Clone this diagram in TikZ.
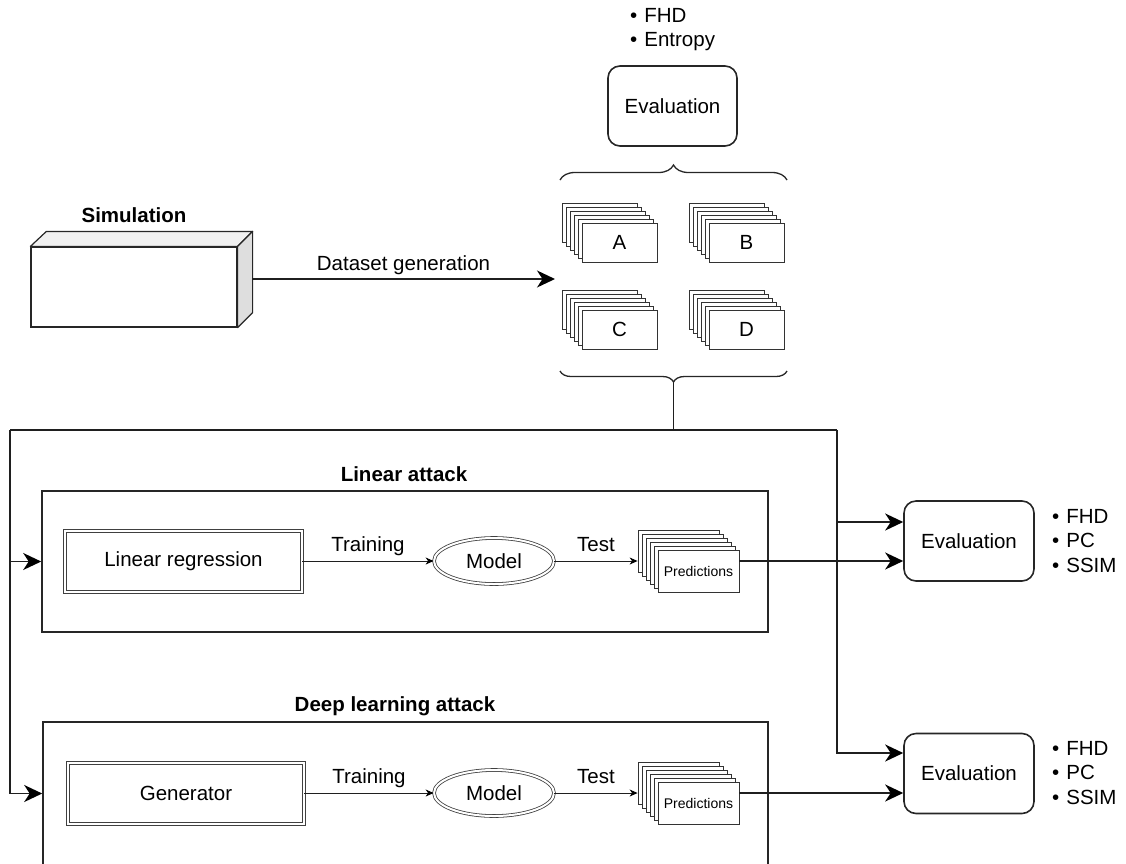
\documentclass[tikz,border=0pt]{standalone}
\usepackage{fontspec}
\setmainfont{Liberation Sans}
\usetikzlibrary{arrows.meta,shapes.geometric,decorations.pathreplacing,calc}
\newcommand\mystack[4]{%
  \foreach \i in {5,4,...,1} {
    \node[card, minimum width=#3, minimum height=#4] (#1-\i) at ($(#2)+(-4*\i,-4*\i)$) {};
  }%
}
\begin{document}
\begin{tikzpicture}[x=1pt,y=-1pt,
  every node/.style={font=\fontsize{20.5}{24}\selectfont, text=black},
  conn/.style={line width=1.7pt, draw=black!88},
  bigarrow/.style={conn, -{Stealth[length=18pt,width=17pt,inset=5.5pt,color=black]}},
  smallarrow/.style={line width=0.9pt, draw=black!88, -{Stealth[length=8pt,width=7pt,inset=2.5pt,color=black]}},
  evalbox/.style={draw=black!85, line width=1.6pt, rounded corners=12pt, minimum width=130, minimum height=80, inner sep=0},
  frame/.style={draw=black!85, line width=1.6pt, inner sep=0},
  dbl/.style={draw=black!75, double=white, double distance=2pt, line width=0.8pt, inner sep=0},
  card/.style={draw=black!80, fill=white, line width=0.8pt, inner sep=0},
  title/.style={font=\bfseries\fontsize{20.5}{24}\selectfont},
  lbl/.style={anchor=base, yshift=#1, inner sep=0},
  bullets/.style={align=left, font=\fontsize{20.5}{24.5}\selectfont, inner sep=0, anchor=west},
  bigbrace/.style={draw=black!85, line width=1.3pt, decorate, decoration={brace, amplitude=#1}}
]
\useasboundingbox (0,0) rectangle (1126,863);
\clip (0,0) rectangle (1126,863);

% top evaluation
\node[bullets] (topb) at (630,29.5) {\textbullet\hspace{7pt}FHD\\\textbullet\hspace{7pt}Entropy};
\node[evalbox, minimum width=129] (ev0) at (672.5,106) {Evaluation};

% braces
\draw[bigbrace=15pt] (560,180) -- (787,180);
\draw[bigbrace=11pt] (787,371) -- (560,371);
\coordinate (btip) at (673.5,383);

% dataset stacks
\mystack{A}{619.5,242.5}{75}{39}
\node[card, minimum width=75, minimum height=39] (A) at (619.5,242.5) {A};
\mystack{B}{746.5,242.5}{75}{39}
\node[card, minimum width=75, minimum height=39] (B) at (746.5,242.5) {B};
\mystack{C}{619.5,329.5}{75}{39}
\node[card, minimum width=75, minimum height=39] (C) at (619.5,329.5) {C};
\mystack{D}{746.5,329.5}{75}{39}
\node[card, minimum width=75, minimum height=39] (D) at (746.5,329.5) {D};

% simulation cube
\node[title] (simt) at (134,215) {Simulation};
\node[draw=black!85, line width=1.2pt, minimum width=206, minimum height=80, inner sep=0] (sim) at (134,287) {};
\filldraw[fill=black!6, draw=black!85, line width=1.2pt, line join=round] (sim.north west) -- ++(16,-15) -- ($(sim.north east)+(15,-15)$) -- (sim.north east) -- cycle;
\filldraw[fill=black!13, draw=black!85, line width=1.2pt, line join=round] (sim.north east) -- ++(15,-15) -- ($(sim.south east)+(15,-15)$) -- (sim.south east) -- cycle;
\coordinate (simR) at (252,279);
\coordinate (dsend) at (555,279);
\draw[bigarrow] (simR) -- node[lbl=9pt] {Dataset generation} (dsend);

% linear attack
\node[title] (lint) at (404,474) {Linear attack};
\node[frame, minimum width=726, minimum height=141] (lin) at (405,561.5) {};
\node[dbl, minimum width=237, minimum height=61] (lr) at (183.5,561.5) {Linear regression};
\node[dbl, ellipse, minimum width=120, minimum height=46] (lm) at (494,561) {Model};
\mystack{Lp}{698.5,571}{81}{42}
\node[card, minimum width=81, minimum height=42, font=\fontsize{14}{16}\selectfont] (Lp) at (698.5,571) {Predictions};
\draw[smallarrow] (lr.east |- lm.center) -- node[lbl=10pt] {Training} (lm.west);
\draw[smallarrow] (lm.east) -- node[lbl=10pt] {Test} (lm.east -| Lp-5.west);

% deep learning attack
\node[title] (deept) at (395,706) {Deep learning attack};
\node[frame, minimum width=725, minimum height=168] (deep) at (405.5,806) {};
\node[dbl, minimum width=236, minimum height=61] (gen) at (186,793.5) {Generator};
\node[dbl, ellipse, minimum width=120, minimum height=46] (dm) at (494,793) {Model};
\mystack{Dp}{698.5,803}{81}{42}
\node[card, minimum width=81, minimum height=42, font=\fontsize{14}{16}\selectfont] (Dp) at (698.5,803) {Predictions};
\draw[smallarrow] (gen.east |- dm.center) -- node[lbl=10pt] {Training} (dm.west);
\draw[smallarrow] (dm.east) -- node[lbl=10pt] {Test} (dm.east -| Dp-5.west);

% right evaluations
\node[evalbox] (ev1) at (969,541) {Evaluation};
\node[bullets] (b1) at (1052,541) {\textbullet\hspace{7pt}FHD\\\textbullet\hspace{7pt}PC\\\textbullet\hspace{7pt}SSIM};
\node[evalbox] (ev2) at (969,773.5) {Evaluation};
\node[bullets] (b2) at (1052,773) {\textbullet\hspace{7pt}FHD\\\textbullet\hspace{7pt}PC\\\textbullet\hspace{7pt}SSIM};
\coordinate (ev1a) at ($(ev1.west)+(0,-19)$);
\coordinate (ev2a) at ($(ev2.west)+(0,-20.5)$);

% main connectors
\coordinate (junc) at (673.5,430);
\coordinate (LT) at (10,430);
\coordinate (RT) at (837,430);
\draw[conn] (btip) -- (junc);
\draw[conn, line join=miter] (LT) -- (RT);
\draw[bigarrow] (LT) |- (deep.west |- gen.center);
\draw[bigarrow] (LT |- lr.center) -- (lin.west |- lr.center);
\draw[bigarrow] (RT) |- (ev2a);
\draw[bigarrow] (RT |- ev1a) -- (ev1a);
\draw[bigarrow] (Lp.east |- lm.center) -- (ev1.west |- lm.center);
\draw[bigarrow] (Dp.east |- dm.center) -- (ev2.west |- dm.center);
\end{tikzpicture}
\end{document}
